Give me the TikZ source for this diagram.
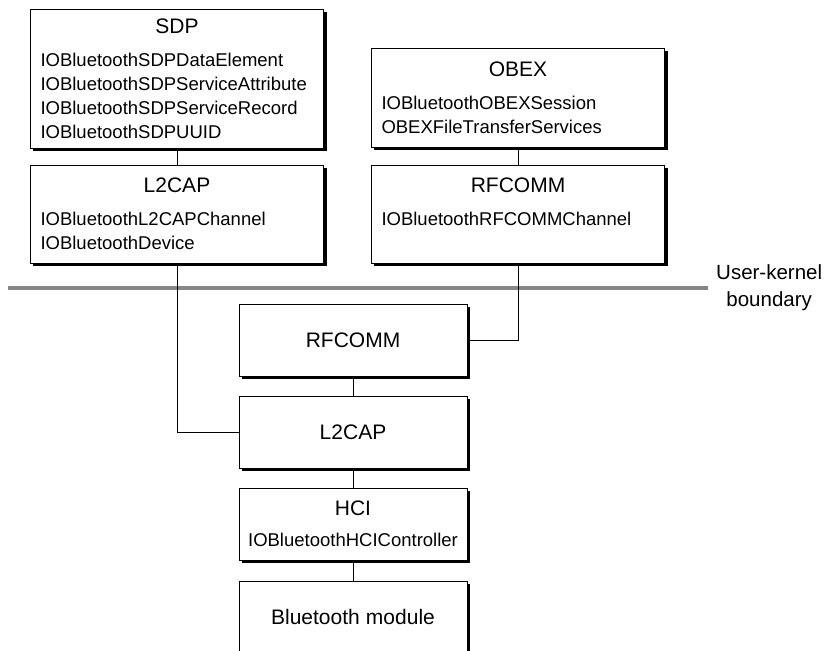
\documentclass[tikz,border=0pt]{standalone}
\usepackage{fontspec}
\setmainfont{Liberation Sans}
\usepackage{xcolor}
\usepackage{tikz}
\usetikzlibrary{positioning,calc}

\definecolor{boundarygray}{gray}{0.53}
\newcommand{\layername}[1]{\makebox[\hsize]{\fontsize{21}{24}\selectfont #1}}

\tikzset{
  layer/.style={draw, line width=1pt, fill=white, text width=#1,
    inner xsep=10pt, inner ysep=3pt, align=left,
    font=\fontsize{18.5}{24}\selectfont},
  userlayer/.style={layer=273pt},
  kernellayer/.style={layer=208pt, minimum height=72pt},
  boxshadow/.style={draw=black, line width=3pt},
  link/.style={draw, line width=1pt},
  boundary/.style={draw=boundarygray, line width=4pt},
}

\begin{document}
\begin{tikzpicture}[x=1pt,y=-1pt]
    \useasboundingbox (0,0) rectangle (826,650);

    % User-kernel boundary
    \draw[boundary] (8,288) -- (708,288);
    \node[anchor=west, inner sep=0pt, align=center,
      font=\fontsize{20.5}{27}\selectfont] (ukbound) at (716,288) {User-kernel\\boundary};

    % User space
    \node[userlayer, minimum height=138pt] (sdp) at (177,79) {\layername{SDP}\\[9pt]
      IOBluetoothSDPDataElement\\
      IOBluetoothSDPServiceAttribute\\
      IOBluetoothSDPServiceRecord\\
      IOBluetoothSDPUUID};
    \node[userlayer, minimum height=98pt] (l2capuser) at (177,214) {\layername{L2CAP}\\[9pt]
      IOBluetoothL2CAPChannel\\
      IOBluetoothDevice};
    \node[userlayer, minimum height=98pt] (obex) at (518,98) {\layername{OBEX}\\[9pt]
      IOBluetoothOBEXSession\\
      OBEXFileTransferServices};
    \node[userlayer, minimum height=98pt] (rfcommuser) at (518,214) {\layername{RFCOMM}\\[9pt]
      IOBluetoothRFCOMMChannel\\
      \phantom{I}};

    % Kernel
    \node[kernellayer] (rfcomm) at (353,340) {\layername{RFCOMM}};
    \node[kernellayer] (l2cap) at (353,432) {\layername{L2CAP}};
    \node[kernellayer] (hci) at (353,524) {\layername{HCI}\\[7pt]
      \makebox[\hsize]{IOBluetoothHCIController}};
    \node[kernellayer] (btmodule) at (353,617) {\layername{Bluetooth module}};

    % Shadow edges on the right and bottom of every box
    \foreach \lay in {sdp,l2capuser,obex,rfcommuser,rfcomm,l2cap,hci,btmodule} {
      \draw[boxshadow] ($(\lay.south west)+(3,1)$) -- ($(\lay.south east)+(1,1)$)
        -- ($(\lay.north east)+(1,3)$);
    }

    % Links
    \draw[link] (sdp) -- (l2capuser);
    \draw[link] (obex) -- (rfcommuser);
    \draw[link] (l2capuser.south) |- (l2cap.west);
    \draw[link] (rfcommuser.south) |- (rfcomm.east);
    \foreach \a/\b in {rfcomm/l2cap, l2cap/hci, hci/btmodule} {
      \draw[link] (\a) -- (\b);
    }
\end{tikzpicture}
\end{document}
